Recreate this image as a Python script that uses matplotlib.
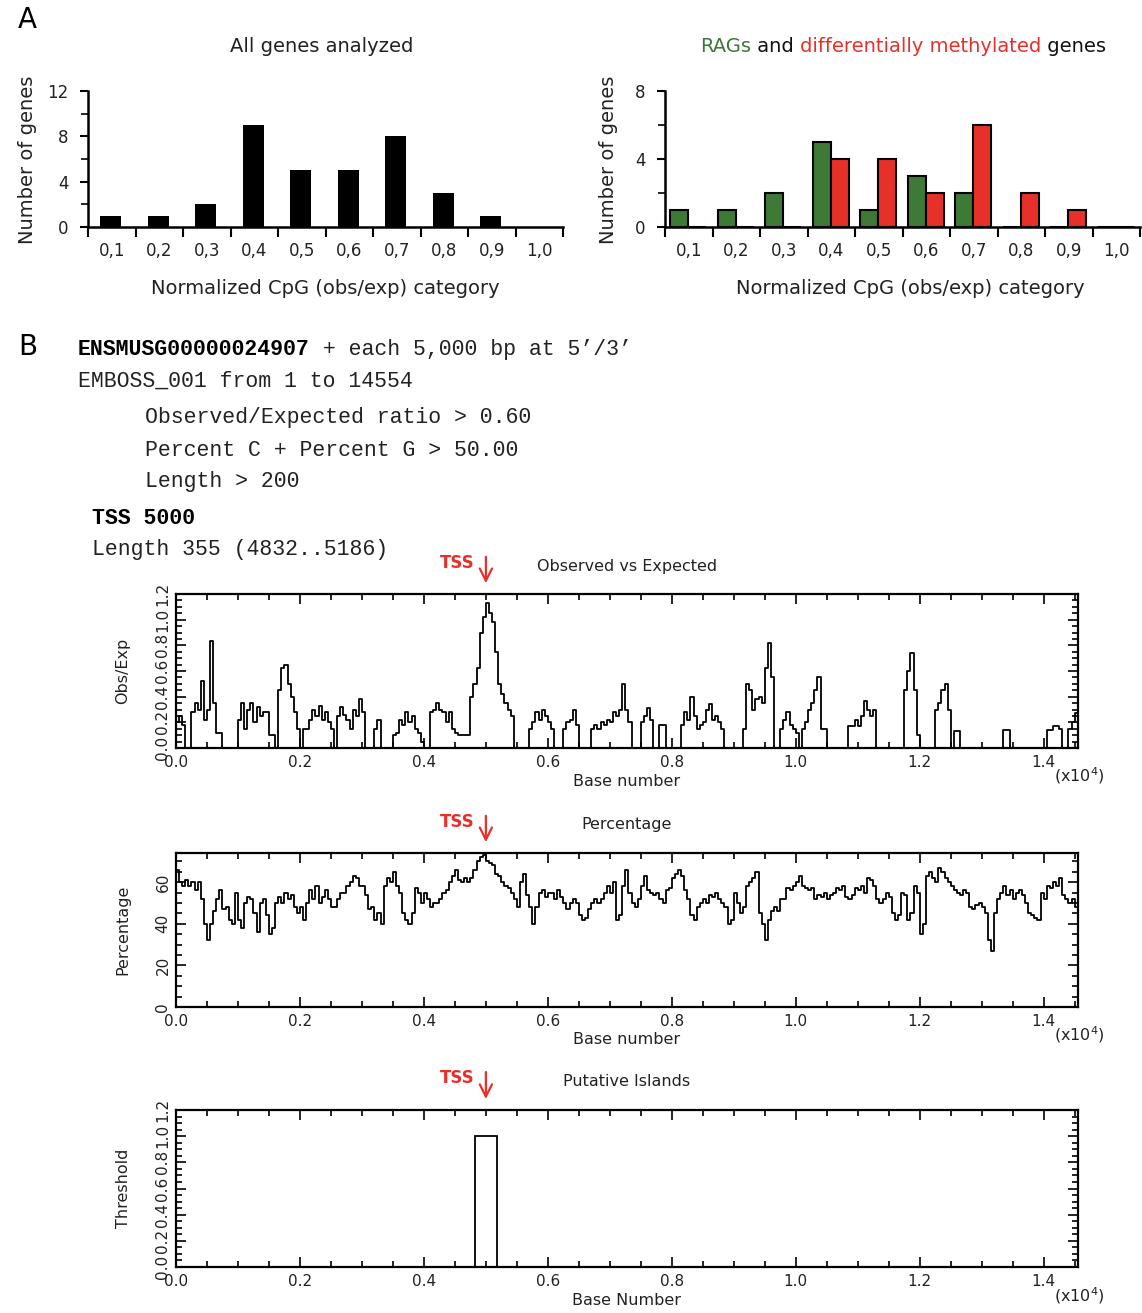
import numpy as np
import matplotlib
matplotlib.use("Agg")
import matplotlib.pyplot as plt
from matplotlib.offsetbox import TextArea, HPacker, AnnotationBbox
from matplotlib.ticker import MultipleLocator, FixedLocator

# ---- panel A: gene counts per normalized CpG category ----
categories = ['0,1', '0,2', '0,3', '0,4', '0,5', '0,6', '0,7', '0,8', '0,9', '1,0']
all_genes = [1, 1, 2, 9, 5, 5, 8, 3, 1, 0]
rags = [1, 1, 2, 5, 1, 3, 2, 0, 0, 0]
dm_genes = [0, 0, 0, 4, 4, 2, 6, 2, 1, 0]

# ---- panel B: EMBOSS cpgplot output, sampled every 50 bp ----
seq_len = 14554
step_bp = 50
obs_exp = [
    0.20, 0.25, 0.18, 0.00, 0.00, 0.28, 0.35, 0.30, 0.52, 0.22, 0.30, 0.83, 0.35, 0.12, 0.12, 0.00, 0.00, 0.00, 0.00, 0.00,
    0.22, 0.35, 0.15, 0.30, 0.35, 0.20, 0.32, 0.25, 0.28, 0.28, 0.10, 0.10, 0.00, 0.45, 0.62, 0.65, 0.50, 0.40, 0.28, 0.15,
    0.00, 0.15, 0.15, 0.22, 0.30, 0.25, 0.33, 0.22, 0.28, 0.20, 0.15, 0.00, 0.25, 0.32, 0.26, 0.22, 0.15, 0.30, 0.25, 0.38,
    0.28, 0.00, 0.00, 0.00, 0.15, 0.22, 0.00, 0.00, 0.00, 0.00, 0.10, 0.12, 0.22, 0.18, 0.28, 0.20, 0.25, 0.15, 0.12, 0.05,
    0.00, 0.00, 0.28, 0.30, 0.35, 0.30, 0.28, 0.20, 0.28, 0.15, 0.12, 0.10, 0.10, 0.10, 0.10, 0.40, 0.50, 0.62, 0.90, 1.02,
    1.13, 1.05, 0.98, 0.75, 0.50, 0.42, 0.35, 0.30, 0.25, 0.00, 0.00, 0.00, 0.00, 0.00, 0.15, 0.20, 0.28, 0.22, 0.30, 0.25,
    0.20, 0.15, 0.00, 0.00, 0.00, 0.15, 0.20, 0.22, 0.30, 0.18, 0.00, 0.00, 0.00, 0.00, 0.15, 0.18, 0.15, 0.20, 0.18, 0.22,
    0.20, 0.28, 0.25, 0.30, 0.50, 0.30, 0.20, 0.00, 0.00, 0.00, 0.20, 0.25, 0.31, 0.22, 0.00, 0.00, 0.18, 0.18, 0.00, 0.00,
    0.00, 0.00, 0.00, 0.18, 0.28, 0.22, 0.40, 0.25, 0.15, 0.18, 0.20, 0.30, 0.34, 0.22, 0.25, 0.20, 0.15, 0.00, 0.00, 0.00,
    0.00, 0.00, 0.00, 0.15, 0.50, 0.45, 0.30, 0.38, 0.40, 0.35, 0.62, 0.82, 0.55, 0.00, 0.00, 0.15, 0.22, 0.28, 0.18, 0.15,
    0.12, 0.00, 0.15, 0.20, 0.30, 0.35, 0.45, 0.55, 0.15, 0.15, 0.00, 0.00, 0.00, 0.00, 0.00, 0.00, 0.00, 0.17, 0.17, 0.22,
    0.17, 0.25, 0.37, 0.30, 0.25, 0.30, 0.00, 0.00, 0.00, 0.00, 0.00, 0.00, 0.00, 0.00, 0.00, 0.45, 0.60, 0.74, 0.45, 0.10,
    0.00, 0.00, 0.00, 0.00, 0.00, 0.30, 0.35, 0.45, 0.50, 0.30, 0.00, 0.13, 0.13, 0.00, 0.00, 0.00, 0.00, 0.00, 0.00, 0.00,
    0.00, 0.00, 0.00, 0.00, 0.00, 0.00, 0.00, 0.14, 0.14, 0.00, 0.00, 0.00, 0.00, 0.00, 0.00, 0.00, 0.00, 0.00, 0.00, 0.00,
    0.00, 0.14, 0.14, 0.17, 0.17, 0.15, 0.00, 0.00, 0.15, 0.20, 0.27, 0.20,
]
gc_pct = [
    66, 60, 58, 61, 58, 60, 56, 60, 52, 40, 32, 40, 46, 52, 56, 47, 48, 42, 40, 55,
    42, 38, 50, 53, 52, 45, 36, 50, 52, 44, 35, 38, 50, 53, 50, 55, 52, 54, 48, 45,
    48, 42, 50, 56, 52, 58, 50, 53, 56, 52, 48, 48, 52, 55, 55, 58, 60, 63, 62, 58,
    58, 54, 47, 48, 42, 45, 40, 58, 62, 60, 65, 58, 55, 45, 42, 40, 45, 57, 55, 50,
    55, 52, 48, 50, 50, 52, 55, 56, 60, 63, 66, 61, 60, 62, 60, 62, 66, 70, 72, 73,
    70, 69, 68, 64, 63, 60, 58, 57, 55, 52, 48, 60, 64, 54, 48, 40, 48, 55, 56, 53,
    55, 55, 52, 56, 53, 50, 47, 50, 52, 50, 44, 42, 43, 47, 50, 52, 50, 52, 55, 58,
    55, 60, 42, 44, 58, 66, 55, 50, 48, 52, 58, 63, 56, 55, 54, 55, 52, 50, 56, 57,
    62, 64, 66, 63, 56, 52, 44, 42, 48, 50, 52, 50, 54, 53, 55, 52, 50, 48, 40, 42,
    55, 50, 45, 48, 58, 60, 62, 65, 45, 40, 32, 42, 46, 48, 46, 52, 52, 57, 56, 58,
    60, 63, 58, 57, 56, 57, 52, 54, 53, 55, 52, 54, 55, 57, 56, 58, 53, 52, 54, 57,
    56, 58, 55, 62, 61, 58, 52, 50, 52, 55, 53, 45, 42, 44, 55, 54, 42, 45, 58, 55,
    35, 40, 63, 65, 62, 60, 67, 65, 62, 60, 58, 56, 55, 54, 56, 55, 48, 47, 49, 50,
    48, 45, 32, 27, 45, 52, 55, 58, 54, 56, 52, 55, 56, 54, 50, 45, 44, 43, 42, 55,
    52, 58, 57, 60, 58, 62, 54, 52, 50, 52, 48, 45,
]
island_start, island_end, island_level = 4832, 5186, 1.0
tss = 5000

GREEN = '#3c7a35'
RED = '#e8302a'
W, H = 1142, 1313

fig = plt.figure(figsize=(W / 100, H / 100), dpi=100)


def box(left, top, right, bottom):
    # pixel box -> figure fraction rect
    return [left / W, 1 - bottom / H, (right - left) / W, (bottom - top) / H]


def px(x, y):
    return x / W, 1 - y / H


# ---------------- panel A ----------------
def style_count_axes(ax, ymax):
    ax.set_xlim(0, 10)
    ax.set_ylim(0, ymax)
    for s in ('top', 'right'):
        ax.spines[s].set_visible(False)
    for s in ('left', 'bottom'):
        ax.spines[s].set_linewidth(1.8)
    ax.xaxis.set_major_locator(FixedLocator(np.arange(11)))
    ax.xaxis.set_minor_locator(FixedLocator(np.arange(10) + 0.5))
    ax.set_xticklabels([])
    ax.set_xticklabels(categories, minor=True)
    ax.tick_params(axis='x', which='major', direction='out', length=7, width=1.5)
    ax.tick_params(axis='x', which='minor', length=0, pad=11, labelsize=12, labelcolor='#222')
    ax.yaxis.set_major_locator(MultipleLocator(4))
    ax.yaxis.set_minor_locator(MultipleLocator(2))
    ax.tick_params(axis='y', which='major', direction='out', length=6, width=1.5,
                   labelsize=12, labelcolor='#222', pad=8)
    ax.tick_params(axis='y', which='minor', direction='out', length=5, width=1.2)


x = np.arange(len(categories))

axL = fig.add_axes(box(88, 91, 563, 227))
axL.bar(x + 0.48, all_genes, width=0.44, color='black')
style_count_axes(axL, 12)

axR = fig.add_axes(box(665, 91, 1140, 227))
axR.bar(x + 0.30, rags, width=0.38, color=GREEN, edgecolor='black', linewidth=1.5)
axR.bar(x + 0.68, dm_genes, width=0.38, color=RED, edgecolor='black', linewidth=1.5)
style_count_axes(axR, 8)

sans = 'DejaVu Sans'
fig.text(*px(322, 47), 'All genes analyzed', ha='center', va='center', fontsize=14, color='#222')
parts = [('RAGs', GREEN), (' and ', '#111'), ('differentially methylated', RED), (' genes', '#111')]
packer = HPacker(children=[TextArea(t, textprops=dict(color=c, fontsize=14, family=sans))
                           for t, c in parts], pad=0, sep=0, align='baseline')
fig.add_artist(AnnotationBbox(packer, px(903, 47), xycoords='figure fraction',
                              frameon=False, box_alignment=(0.5, 0.5)))
for cx in (325, 910):
    fig.text(*px(cx, 288), 'Normalized CpG (obs/exp) category', ha='center', va='center',
             fontsize=14, color='#222')
for cx in (28, 608):
    fig.text(*px(cx, 160), 'Number of genes', ha='center', va='center', rotation=90,
             fontsize=14, color='#222')

fig.text(*px(18, 20), 'A', ha='left', va='center', fontsize=20)
fig.text(*px(18, 347), 'B', ha='left', va='center', fontsize=20)

# ---------------- panel B header ----------------
mono = 'Liberation Mono'
mfs = 15.5
cw = 0.6 * mfs * 100 / 72
fig.text(*px(78, 349), 'ENSMUSG00000024907', fontsize=mfs, family=mono, weight='bold', va='center')
fig.text(*px(78 + 18 * cw, 349), ' + each 5,000 bp at 5’/3’', fontsize=mfs, family=mono,
         va='center', color='#222')
fig.text(*px(78, 381), 'EMBOSS_001 from 1 to 14554', fontsize=mfs, family=mono, va='center', color='#222')
fig.text(*px(145, 418), 'Observed/Expected ratio > 0.60', fontsize=mfs, family=mono, va='center', color='#222')
fig.text(*px(145, 450), 'Percent C + Percent G > 50.00', fontsize=mfs, family=mono, va='center', color='#222')
fig.text(*px(145, 481), 'Length > 200', fontsize=mfs, family=mono, va='center', color='#222')
fig.text(*px(92, 518), 'TSS 5000', fontsize=mfs, family=mono, weight='bold', va='center')
fig.text(*px(92, 550), 'Length 355 (4832..5186)', fontsize=mfs, family=mono, va='center', color='#222')

# ---------------- panel B plots ----------------
pos = np.arange(len(obs_exp)) * step_bp
pos_ext = np.append(pos, seq_len)


def style_emboss(ax, ymax, ymajor, yminor, ylabels, title, ylabel, xlabel):
    ax.set_xlim(0, seq_len)
    ax.set_ylim(0, ymax)
    for s in ax.spines.values():
        s.set_linewidth(1.6)
    ax.set_xticks(np.arange(0, 14001, 2000))
    ax.set_xticklabels(['%.1f' % (v / 1e4) for v in np.arange(0, 14001, 2000)])
    ax.xaxis.set_minor_locator(MultipleLocator(500))
    ax.yaxis.set_major_locator(MultipleLocator(ymajor))
    ax.yaxis.set_minor_locator(MultipleLocator(yminor))
    ax.set_yticklabels(ylabels, rotation=90, va='center')
    ax.set_yticks(np.arange(0, ymax + 1e-9, ymajor)[:len(ylabels)])
    ax.set_yticklabels(ylabels, rotation=90, va='center')
    ax.tick_params(which='both', direction='in', top=True, right=True, width=1.2,
                   labelsize=11, labelcolor='#222')
    ax.tick_params(which='major', length=7)
    ax.tick_params(which='minor', length=4)
    ax.tick_params(axis='x', pad=5)
    ax.tick_params(axis='y', pad=4)
    ax.text(0.5, 1 + 28 / 154, title, transform=ax.transAxes, ha='center', va='center',
            fontsize=11.5, color='#222')
    ax.text(-53 / 902, 0.5, ylabel, transform=ax.transAxes, ha='center', va='center',
            rotation=90, fontsize=11.5, color='#222')
    ax.text(0.5, -33 / 154, xlabel, transform=ax.transAxes, ha='center', va='center',
            fontsize=11.5, color='#222')
    ax.text(1.002, -28 / 154, '(x10$^4$)', transform=ax.transAxes, ha='center', va='center',
            fontsize=11.5, color='#222')
    # TSS marker above each plot
    tr = ax.get_xaxis_transform()
    ax.annotate('', xy=(tss, 1 + 8 / 154), xytext=(tss, 1 + 40 / 154), xycoords=tr,
                textcoords=tr, annotation_clip=False,
                arrowprops=dict(arrowstyle='->', color=RED, lw=1.6, mutation_scale=22))
    ax.text(4540, 1 + 31 / 154, 'TSS', transform=tr, ha='center', va='center',
            color=RED, fontsize=12, weight='bold')


ratio_labels = ['0.0', '0.2', '0.4', '0.6', '0.8', '1.0', '1.2']

ax1 = fig.add_axes(box(176, 594, 1078, 748))
ax1.step(pos_ext, np.append(obs_exp, obs_exp[-1]), where='post', color='black', lw=1.3)
style_emboss(ax1, 1.2, 0.2, 0.05, ratio_labels, 'Observed vs Expected', 'Obs/Exp', 'Base number')

ax2 = fig.add_axes(box(176, 853, 1078, 1007))
ax2.step(pos_ext, np.append(gc_pct, gc_pct[-1]), where='post', color='black', lw=1.3)
style_emboss(ax2, 74, 20, 5, ['0', '20', '40', '60'], 'Percentage', 'Percentage', 'Base number')

ax3 = fig.add_axes(box(176, 1110, 1078, 1267))
ax3.bar(island_start, island_level, width=island_end - island_start, align='edge',
        fill=False, edgecolor='black', linewidth=1.3)
style_emboss(ax3, 1.2, 0.2, 0.05, ratio_labels, 'Putative Islands', 'Threshold', 'Base Number')

fig.savefig('out.png', dpi=100)
